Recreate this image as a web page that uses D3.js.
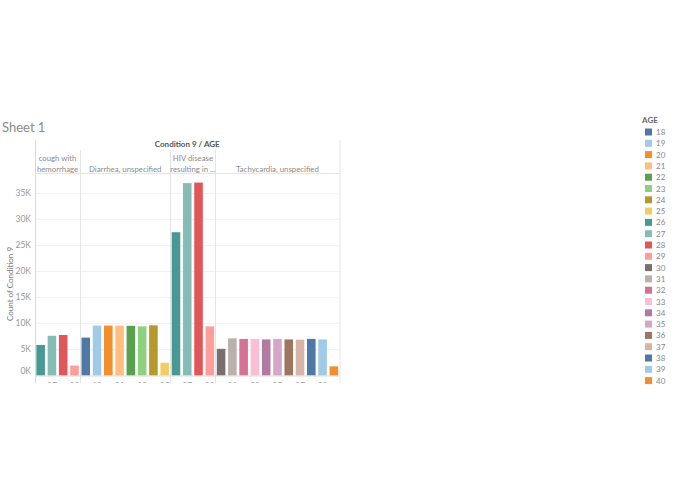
<!DOCTYPE html>
<html><head><meta charset="utf-8">
<script src="https://cdn.jsdelivr.net/npm/d3@7"></script>
<style>body{margin:0;background:#fff;font-family:Lato,"Open Sans",sans-serif;}</style>
</head><body><svg id="c" width="695" height="494"></svg>
<script>
const groups = ["cough with hemorrhage","Diarrhea, unspecified","HIV disease resulting in ...","Tachycardia, unspecified"];
const groupHeaders = [["cough with","hemorrhage"],["Diarrhea, unspecified"],["HIV disease","resulting in ..."],["Tachycardia, unspecified"]];
const groupAges = [[26,27,28,29],[18,19,20,21,22,23,24,25],[26,27,28,29],[30,31,32,33,34,35,36,37,38,39,40]];
const groupValues = [
  [5850,7600,7750,1900],
  [7250,9550,9550,9550,9500,9400,9600,2450],
  [27400,36800,36900,9400],
  [5100,7100,7000,7000,6900,7000,6900,6850,7000,6900,1750]
];
const ages = d3.range(18,41);
const colors = ["#4e79a7","#a0cbe8","#f28e2b","#ffbe7d","#59a14f","#8cd17d","#b6992d","#f1ce63","#499894","#86bcb6","#e15759","#ff9d9a","#79706e","#bab0ac","#d37295","#fabfd2","#b07aa1","#d4a6c8","#9d7660","#d7b5a6","#4e79a7","#a0cbe8","#f28e2b"];
const yTicks = [0,5000,10000,15000,20000,25000,30000,35000];
const yTickLabels = ["0K","5K","10K","15K","20K","25K","30K","35K"];

(function(){
const svg = d3.select("#c");
const color = d3.scaleOrdinal().domain(ages).range(colors);

const L = 35, R = 339.5, T = 140, headTop = 150, headBottom = 173.5, base = 375.5;
const y = d3.scaleLinear().domain([0,35000]).range([base, 192.5]);

const slots = [];
groupAges.forEach((g,gi)=>g.forEach((a,ai)=>slots.push({gi,ai,age:a,v:groupValues[gi][ai]})));
const x = d3.scaleBand().domain(d3.range(slots.length)).range([L,R]).paddingInner(0.24).paddingOuter(0.12);

svg.append("text").attr("x",2).attr("y",132).attr("font-size",13).attr("fill","#8a8a8a").text("Sheet 1");

svg.append("defs").append("clipPath").attr("id","cl").append("rect").attr("x",0).attr("y",0).attr("width",400).attr("height",383);
const g = svg.append("g").attr("clip-path","url(#cl)");

g.selectAll(".grid").data(yTicks.slice(1)).join("line")
  .attr("x1",L).attr("x2",R).attr("y1",d=>Math.round(y(d))+0.5).attr("y2",d=>Math.round(y(d))+0.5)
  .attr("stroke","#f2f2f2");

let idx=0; const bounds=[];
groupAges.forEach(ga=>{bounds.push([idx, idx+ga.length-1]); idx+=ga.length;});
const step = x.step();
const gEdges = bounds.map((b,i)=> i===0? L : x(b[0]) - (step - x.bandwidth())/2);
gEdges.push(R);

g.selectAll(".bar").data(slots).join("rect")
  .attr("x",(d,i)=>x(i)).attr("width",x.bandwidth())
  .attr("y",d=>y(d.v)).attr("height",d=>base-y(d.v))
  .attr("fill",d=>color(d.age));

gEdges.slice(1,4).forEach(ex=>{
  g.append("line").attr("x1",Math.round(ex)+0.5).attr("x2",Math.round(ex)+0.5).attr("y1",headTop).attr("y2",383).attr("stroke","#e4e4e4");
});
g.append("line").attr("x1",L+0.5).attr("x2",L+0.5).attr("y1",T).attr("y2",383).attr("stroke","#d9d9d9");
g.append("line").attr("x1",R+0.5).attr("x2",R+0.5).attr("y1",T).attr("y2",383).attr("stroke","#e4e4e4");
g.append("line").attr("x1",L).attr("x2",R).attr("y1",headBottom).attr("y2",headBottom).attr("stroke","#e4e4e4");
g.append("line").attr("x1",L).attr("x2",R).attr("y1",base+0.5).attr("y2",base+0.5).attr("stroke","#d9d9d9");

svg.append("text").attr("x",(L+R)/2).attr("y",147).attr("text-anchor","middle").attr("font-size",8).attr("font-weight","bold").attr("fill","#555").text("Condition 9 / AGE");
groupHeaders.forEach((lines,gi)=>{
  const cx=(gEdges[gi]+gEdges[gi+1])/2;
  const t=svg.append("text").attr("text-anchor","middle").attr("font-size",7.8).attr("fill","#8a8a8a");
  if(lines.length===2){
    t.append("tspan").attr("x",cx).attr("y",161).text(lines[0]);
    t.append("tspan").attr("x",cx).attr("y",172).text(lines[1]);
  } else {
    t.append("tspan").attr("x",cx).attr("y",172).text(lines[0]);
  }
});

svg.selectAll(".yt").data(yTicks).join("text")
  .attr("x",31).attr("y",(d,i)=> i===0? 374 : y(d)+3).attr("text-anchor","end")
  .attr("font-size",8.5).attr("fill","#999").text((d,i)=>yTickLabels[i]);
svg.append("text").attr("transform","translate(13,"+((192+376)/2)+") rotate(-90)").attr("text-anchor","middle")
  .attr("font-size",8).attr("fill","#777").text("Count of Condition 9");

g.selectAll(".xt").data(slots.filter(d=>d.age%2===1)).join("text")
  .attr("x",d=>x(slots.indexOf(d))+x.bandwidth()/2).attr("y",389).attr("text-anchor","middle")
  .attr("font-size",8.5).attr("fill","#999").text(d=>d.age);

svg.append("text").attr("x",642).attr("y",123).attr("font-size",8).attr("font-weight","bold").attr("fill","#666").text("AGE");
const lg = svg.selectAll(".lg").data(ages).join("g").attr("transform",(d,i)=>"translate(645,"+(128.5+i*11.3)+")");
lg.append("rect").attr("width",7).attr("height",7).attr("fill",d=>color(d));
lg.append("text").attr("x",11).attr("y",6.5).attr("font-size",8).attr("fill","#888").text(d=>d);
})();
</script></body></html>
